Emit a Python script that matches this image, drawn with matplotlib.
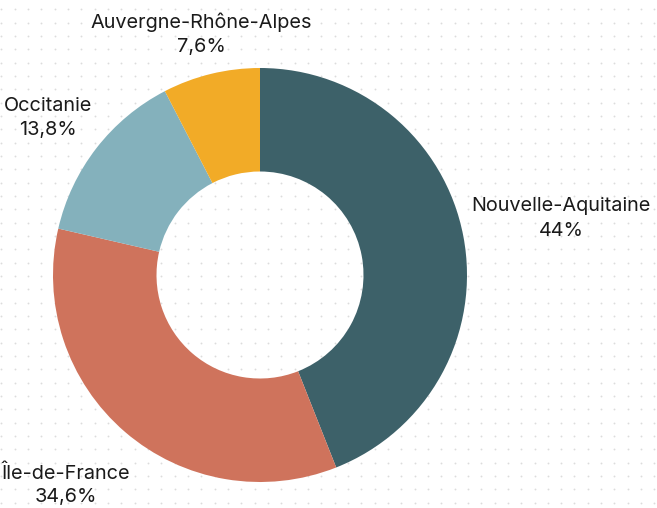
import matplotlib.pyplot as plt
import numpy as np

regions = ['Nouvelle-Aquitaine', 'Île-de-France', 'Occitanie', 'Auvergne-Rhône-Alpes']
shares = [44.0, 34.6, 13.8, 7.6]
share_labels = ['44%', '34,6%', '13,8%', '7,6%']
colors = ['#3d6169', '#cf735c', '#84b1bc', '#f2ab27']

W, H = 657, 508
fig = plt.figure(figsize=(W / 100, H / 100), dpi=100)
ax = fig.add_axes([0, 0, 1, 1])

# dotted background
gx = np.arange(1.3, W, 13.33)
gy = np.arange(9.3, H, 13.33)
xx, yy = np.meshgrid(gx, gy)
ax.scatter(xx.ravel(), H - yy.ravel(), s=1.8, color='#dcdcdc', linewidths=0, zorder=0)

cx, cy, r = 260, H - 275, 207
ax.pie(shares, colors=colors, startangle=90, counterclock=False,
       center=(cx, cy), radius=r, frame=True,
       wedgeprops=dict(width=r * 0.5, linewidth=0))
ax.set_xlim(0, W)
ax.set_ylim(0, H)
ax.set_aspect('equal')
ax.axis('off')

# (x centre, y of name line, y of value line) in pixels from top
label_pos = [(561, 206, 231), (66, 474, 497), (48, 106, 130), (201, 22, 47)]
for name, lab, (x, y1, y2) in zip(regions, share_labels, label_pos):
    ax.text(x, H - y1, name, ha='center', va='center',
            fontsize=14.3, family='Inter', color='#1a1a1a')
    ax.text(x, H - y2, lab, ha='center', va='center',
            fontsize=14.3, family='Inter', color='#1a1a1a')

fig.savefig('out.png', dpi=100)
